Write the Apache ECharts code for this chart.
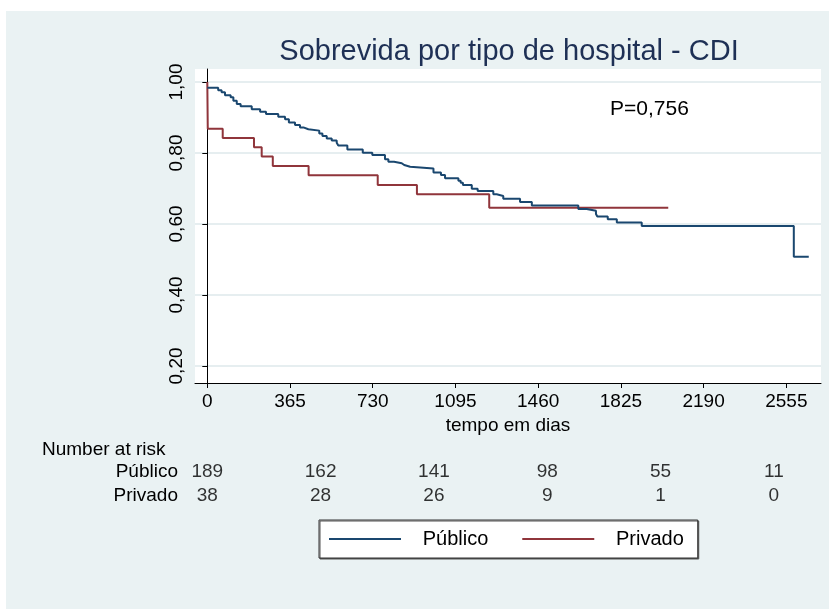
<!DOCTYPE html>
<html>
<head>
<meta charset="utf-8">
<script src="https://cdn.jsdelivr.net/npm/echarts@6/dist/echarts.min.js"></script>
<style>
  body { margin: 0; background: #ffffff; }
  #chart { position: absolute; left: 6px; top: 11px; width: 823px; height: 598px; }
</style>
</head>
<body>
<div id="chart"></div>
<script>
// Público (azul): tempo em dias e sobrevida estimada
const publicoDias = [0, 48, 63, 78, 103, 115, 130, 147, 196, 233, 259, 313, 343, 360, 387, 409, 424, 446, 494, 508, 527, 549, 571, 578, 618, 686, 728, 784, 799, 824, 858, 869, 895, 998, 1031, 1049, 1108, 1118, 1128, 1167, 1193, 1262, 1277, 1306, 1380, 1432, 1637, 1674, 1715, 1721, 1767, 1807, 1917, 2588, 2654]
const publicoSobrev = [0.984, 0.977, 0.971, 0.963, 0.957, 0.947, 0.938, 0.932, 0.923, 0.916, 0.910, 0.902, 0.895, 0.886, 0.879, 0.872, 0.867, 0.863, 0.855, 0.848, 0.841, 0.835, 0.829, 0.821, 0.810, 0.801, 0.794, 0.782, 0.775, 0.771, 0.766, 0.761, 0.756, 0.745, 0.738, 0.729, 0.722, 0.716, 0.710, 0.699, 0.693, 0.684, 0.679, 0.671, 0.662, 0.652, 0.642, 0.637, 0.628, 0.621, 0.613, 0.604, 0.594, 0.508, 0.508]

// Privado (vermelho)
const privadoDias = [0, 2, 68, 206, 240, 289, 447, 752, 925, 1244, 2034]
const privadoSobrev = [1.000, 0.868, 0.842, 0.816, 0.790, 0.763, 0.737, 0.710, 0.684, 0.646, 0.646]

// eixos
const xTicks = [0, 365, 730, 1095, 1460, 1825, 2190, 2555]
const yTicks = [0.2, 0.4, 0.6, 0.8, 1.0]

// number at risk
const riscoDias = [0, 500, 1000, 1500, 2000, 2500]
const riscoPublico = [189, 162, 141, 98, 55, 11]
const riscoPrivado = [38, 28, 26, 9, 1, 0]

const fonte = "'Liberation Sans', Arial, Helvetica, sans-serif"
const xMin = -54.3
const xMax = 2708

const riscoData = []
riscoDias.forEach((d, i) => {
  riscoData.push([d, 'Público', riscoPublico[i]])
  riscoData.push([d, 'Privado', riscoPrivado[i]])
})

const myChart = echarts.init(document.getElementById('chart'))
myChart.setOption({
  backgroundColor: '#eaf2f3',
  animation: false,
  textStyle: { fontFamily: fonte },
  title: {
    text: 'Sobrevida por tipo de hospital - CDI',
    left: 498,
    top: 21,
    textAlign: 'center',
    textStyle: { color: '#1e3055', fontSize: 29, fontWeight: 'normal', fontFamily: fonte }
  },
  grid: [
    { left: 189, top: 58, right: 8, bottom: 226, show: true, backgroundColor: '#ffffff', borderWidth: 0 },
    { left: 189, top: 449, right: 8, height: 48 }
  ],
  xAxis: [
    {
      type: 'value',
      gridIndex: 0,
      min: xMin,
      max: xMax,
      name: 'tempo em dias',
      nameLocation: 'middle',
      nameGap: 30,
      nameTextStyle: { color: '#000', fontSize: 19, fontFamily: fonte },
      axisLine: { show: true, onZero: false, lineStyle: { color: '#000', width: 1 } },
      axisTick: { show: true, length: 5, customValues: xTicks, lineStyle: { color: '#000' } },
      axisLabel: { customValues: xTicks, color: '#000', fontSize: 19, margin: 9, formatter: v => String(v) },
      splitLine: { show: false }
    },
    {
      type: 'value',
      gridIndex: 1,
      min: xMin,
      max: xMax,
      show: false
    }
  ],
  yAxis: [
    {
      type: 'value',
      gridIndex: 0,
      min: 0.152,
      max: 1.0366,
      axisLine: { show: true, lineStyle: { color: '#000', width: 1 } },
      axisTick: { show: true, length: 5, customValues: yTicks, lineStyle: { color: '#000' } },
      axisLabel: {
        customValues: yTicks,
        rotate: 90,
        color: '#000',
        fontSize: 19,
        margin: 9,
        formatter: v => v.toFixed(2).replace('.', ',')
      },
      splitLine: { show: true, lineStyle: { color: '#e6eef0', width: 2 } }
    },
    {
      type: 'category',
      gridIndex: 1,
      data: ['Privado', 'Público'],
      axisLine: { show: false },
      axisTick: { show: false },
      axisLabel: { color: '#000', fontSize: 19, margin: 17, interval: 0 },
      splitLine: { show: false }
    }
  ],
  legend: {
    data: ['Público', 'Privado'],
    left: 313,
    top: 509,
    orient: 'horizontal',
    icon: 'rect',
    itemWidth: 72,
    itemHeight: 2,
    itemGap: 34,
    padding: [9, 14, 9, 10],
    backgroundColor: '#ffffff',
    borderColor: '#333',
    borderWidth: 1,
    shadowColor: '#555',
    shadowOffsetX: 1,
    shadowOffsetY: 1,
    formatter: name => '   ' + name,
    textStyle: { color: '#000', fontSize: 20, fontFamily: fonte }
  },
  graphic: [
    {
      type: 'text',
      left: 36,
      top: 429,
      style: { text: 'Number at risk', fill: '#000', font: '19px ' + fonte }
    },
    {
      type: 'text',
      left: 604,
      top: 88,
      style: { text: 'P=0,756', fill: '#000', font: '21px ' + fonte }
    }
  ],
  series: [
    {
      name: 'Público',
      type: 'line',
      xAxisIndex: 0,
      yAxisIndex: 0,
      step: 'end',
      symbol: 'none',
      color: '#1a476f',
      lineStyle: { width: 2, color: '#1a476f' },
      data: publicoDias.map((d, i) => [d, publicoSobrev[i]]),
      z: 3
    },
    {
      name: 'Privado',
      type: 'line',
      xAxisIndex: 0,
      yAxisIndex: 0,
      step: 'end',
      symbol: 'none',
      color: '#90353b',
      lineStyle: { width: 2, color: '#90353b' },
      data: privadoDias.map((d, i) => [d, privadoSobrev[i]]),
      z: 2
    },
    {
      name: 'risco',
      type: 'scatter',
      xAxisIndex: 1,
      yAxisIndex: 1,
      symbolSize: 1,
      itemStyle: { color: 'rgba(0,0,0,0)' },
      silent: true,
      label: {
        show: true,
        position: 'inside',
        color: '#000',
        fontSize: 19,
        textBorderWidth: 0,
        formatter: p => String(p.value[2])
      },
      data: riscoData
    }
  ]
})
</script>
</body>
</html>
